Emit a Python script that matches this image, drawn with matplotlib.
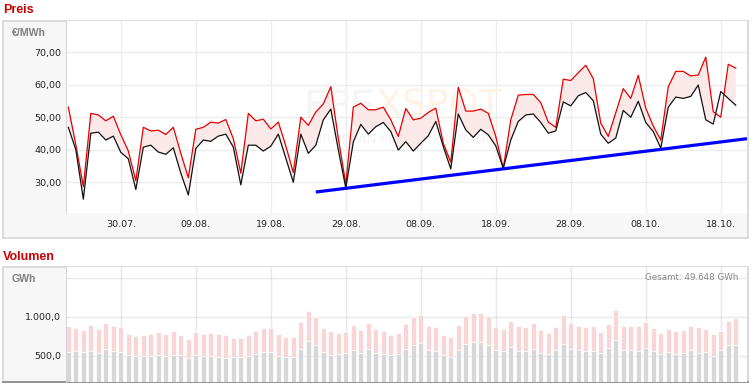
import numpy as np
import pandas as pd
import matplotlib
matplotlib.use('Agg')
import matplotlib.pyplot as plt
import matplotlib.dates as mdates
from matplotlib.ticker import FuncFormatter

# daily data, 23.07. - 20.10.
dates = pd.date_range('2012-07-23', periods=90, freq='D')

# price (EUR/MWh): red = upper curve, black = lower curve
price_red = [53.1, 41.5, 28.7, 51.2, 50.7, 48.9, 50.3, 44.6, 39.6, 30.5,
             46.9, 45.8, 46.0, 44.7, 46.9, 38.9, 31.4, 46.3, 46.9, 48.5,
             48.2, 49.3, 43.4, 32.8, 51.2, 48.9, 49.4, 46.4, 48.5, 41.2,
             33.0, 50.0, 47.5, 51.6, 54.1, 59.4, 43.5, 29.5, 53.1, 54.3,
             52.3, 52.3, 53.1, 49.2, 44.1, 52.7, 49.2, 49.7, 51.5, 52.8,
             42.0, 36.2, 59.2, 51.9, 51.9, 52.5, 51.2, 44.1, 34.3, 49.2,
             56.8, 57.0, 57.0, 54.5, 48.5, 46.9, 61.7, 61.3, 63.7, 66.0,
             61.9, 48.2, 44.1, 51.4, 58.8, 55.8, 62.9, 52.8, 47.3, 43.0,
             59.4, 64.1, 64.1, 62.7, 63.0, 68.5, 51.7, 50.0, 66.3, 65.1]
price_black = [46.9, 40.0, 24.8, 45.1, 45.4, 43.0, 44.2, 39.2, 37.2, 27.8,
               40.8, 41.4, 39.3, 38.6, 40.6, 32.8, 26.1, 40.4, 43.0, 42.6,
               44.2, 44.8, 40.8, 29.2, 41.4, 41.4, 39.6, 41.1, 44.8, 37.4,
               30.0, 44.8, 38.9, 41.4, 49.2, 52.5, 40.0, 28.2, 42.4, 47.8,
               44.8, 47.1, 48.4, 45.6, 39.9, 42.5, 39.6, 42.0, 44.3, 48.7,
               41.0, 34.1, 51.0, 46.1, 43.8, 46.3, 44.6, 41.2, 34.3, 43.0,
               48.7, 50.7, 51.0, 48.4, 45.1, 45.8, 54.7, 53.5, 56.6, 57.6,
               55.1, 44.8, 42.0, 43.6, 52.1, 50.0, 54.9, 48.4, 45.6, 40.5,
               53.1, 56.2, 55.8, 56.4, 59.9, 49.2, 47.9, 57.9, 55.8, 53.7]

# trend line (blue)
trend_dates = pd.to_datetime(['2012-08-25 00:00', '2012-10-21 12:00'])
trend_vals = [27.0, 43.4]

# volume (GWh): grey = lower part, total = top of pink bar
vol_grey = [547, 560, 547, 560, 535, 586, 560, 547, 509, 496,
            496, 496, 509, 496, 509, 509, 470, 509, 496, 496,
            483, 470, 483, 483, 496, 522, 547, 547, 496, 483,
            483, 586, 690, 638, 547, 509, 522, 535, 573, 535,
            586, 535, 522, 509, 522, 586, 638, 664, 573, 560,
            509, 483, 573, 651, 677, 677, 638, 573, 560, 612,
            560, 560, 586, 535, 522, 573, 651, 586, 573, 560,
            560, 535, 599, 703, 573, 573, 560, 599, 560, 522,
            547, 522, 535, 573, 535, 547, 496, 573, 638, 638]
vol_total = [879, 853, 828, 892, 841, 918, 879, 866, 776, 750,
             763, 785, 802, 776, 815, 763, 711, 802, 776, 789,
             776, 763, 724, 724, 763, 815, 853, 853, 776, 737,
             737, 931, 1073, 996, 853, 815, 789, 802, 892, 828,
             918, 841, 815, 763, 789, 905, 996, 1022, 879, 866,
             763, 737, 892, 1009, 1047, 1047, 1009, 866, 841, 944,
             879, 866, 918, 828, 789, 866, 1022, 918, 879, 866,
             879, 802, 905, 1086, 879, 879, 879, 931, 853, 789,
             841, 815, 828, 879, 866, 841, 776, 815, 944, 983]

tick_dates = pd.date_range('2012-07-30', '2012-10-18', freq='10D')
price_ticks = [30, 40, 50, 60, 70]
vol_ticks = [500, 1000, 1500]
vol_tick_labels = ['500,0', '1.000,0', '']

W, H = 752, 385


def px_rect(x0, y0, x1, y1):
  return [x0 / W, 1 - y1 / H, (x1 - x0) / W, (y1 - y0) / H]


fig = plt.figure(figsize=(W / 100, H / 100), dpi=100)
fig.patch.set_facecolor('white')

frame_col = '#d9d9d9'
grid_col = '#ececec'

# grey frames behind the plot areas
for rect, bottom_col in [((3, 21, 748, 238), frame_col), ((3, 267, 748, 382), '#8a8a8a')]:
  fr = fig.add_axes(px_rect(*rect))
  fr.set_facecolor('#f7f7f7')
  fr.set_xticks([])
  fr.set_yticks([])
  for s in fr.spines.values():
    s.set_color(frame_col)
    s.set_linewidth(1.3)
  fr.spines['bottom'].set_color(bottom_col)

xmin = dates[0] - pd.Timedelta(hours=7.5)
xmax = dates[-1] + pd.Timedelta(hours=36)

# ---- price panel
ax = fig.add_axes(px_rect(66, 21, 747, 213))
ax.set_facecolor('white')
r = np.array(price_red)
b = np.array(price_black)
ax.fill_between(dates, b, r, where=r >= b, interpolate=True, color='#fbe9e9', lw=0, zorder=2)
ax.plot(dates, r, color='#e60000', lw=0.9, zorder=4)
ax.plot(dates, b, color='#111111', lw=0.9, zorder=4)
ax.plot(trend_dates, trend_vals, color='#0000ff', lw=2.3, zorder=5, solid_capstyle='butt')

# faint watermark
wm1 = ax.text(0.348, 0.5, 'EPE', transform=ax.transAxes, fontsize=27.5, color='#f5f5f5',
              family='DejaVu Sans', zorder=1)
ax.text(0.351, 0.365, 'EUROPEAN POWER EXCHANGE', transform=ax.transAxes, fontsize=9.3,
        color='#f4f4f4', family='DejaVu Sans', zorder=1)
fig.canvas.draw()
bb = wm1.get_window_extent().transformed(ax.transAxes.inverted())
ax.text(bb.x1 + 0.002, 0.5, 'XSPOT', transform=ax.transAxes, fontsize=27.5, color='#fff3e6',
        family='DejaVu Sans', zorder=1)

ax.set_xlim(xmin, xmax)
ax.set_ylim(20.55, 79.6)
ax.set_yticks(price_ticks)
ax.yaxis.set_major_formatter(FuncFormatter(lambda v, p: ('%.2f' % v).replace('.', ',')))
ax.set_xticks(tick_dates)
ax.xaxis.set_major_formatter(mdates.DateFormatter('%d.%m.'))
ax.tick_params(length=0, labelcolor='#222222', labelsize=6.8)
ax.tick_params(axis='x', pad=5)
ax.tick_params(axis='y', pad=3.5)
for lab in ax.get_xticklabels() + ax.get_yticklabels():
  lab.set_family('DejaVu Sans')
ax.grid(True, color=grid_col, lw=1)
ax.set_axisbelow(True)
for s in ['top', 'right', 'bottom']:
  ax.spines[s].set_visible(False)
ax.spines['left'].set_color('#d6d6d6')

# ---- volume panel
ax2 = fig.add_axes(px_rect(66, 267, 747, 382))
ax2.set_facecolor('white')
g = np.array(vol_grey)
t = np.array(vol_total)
ax2.bar(dates, g, width=0.7, color='#d7d7d7', edgecolor='white', lw=0.5, zorder=2)
ax2.bar(dates, t - g, bottom=g, width=0.7, color='#f9d5d5', edgecolor='white', lw=0.5, zorder=2)
ax2.set_xlim(xmin, xmax)
ax2.set_ylim(165, 1640)
ax2.set_yticks(vol_ticks)
ax2.set_yticklabels(vol_tick_labels)
ax2.set_xticks(tick_dates)
ax2.set_xticklabels([])
ax2.tick_params(length=0, labelcolor='#222222', labelsize=6.8, pad=3.5)
for lab in ax2.get_yticklabels():
  lab.set_family('DejaVu Sans')
ax2.grid(True, color='#d0d0d0', lw=1, alpha=0.45, zorder=3)
for s in ['top', 'right', 'bottom']:
  ax2.spines[s].set_visible(False)
ax2.spines['left'].set_color('#d6d6d6')
ax2.text((738 - 66) / (747 - 66), 1 - (277 - 267) / (382 - 267),
         'Gesamt: 49.648 GWh', transform=ax2.transAxes, ha='right', va='center',
         fontsize=6.3, color='#888888', family='DejaVu Sans')

# titles and unit labels
fig.text(3 / W, 1 - 10 / H, 'Preis', color='#cc0000', fontsize=9, fontweight='bold',
         family='Liberation Sans', va='center')
fig.text(3 / W, 1 - 257 / H, 'Volumen', color='#cc0000', fontsize=9, fontweight='bold',
         family='Liberation Sans', va='center')
fig.text(12 / W, 1 - 33 / H, '€/MWh', color='#808080', fontsize=7.6, fontweight='bold',
         family='Liberation Sans', va='center')
fig.text(12 / W, 1 - 279 / H, 'GWh', color='#808080', fontsize=7.6, fontweight='bold',
         family='Liberation Sans', va='center')

fig.savefig('out.png', dpi=100)
